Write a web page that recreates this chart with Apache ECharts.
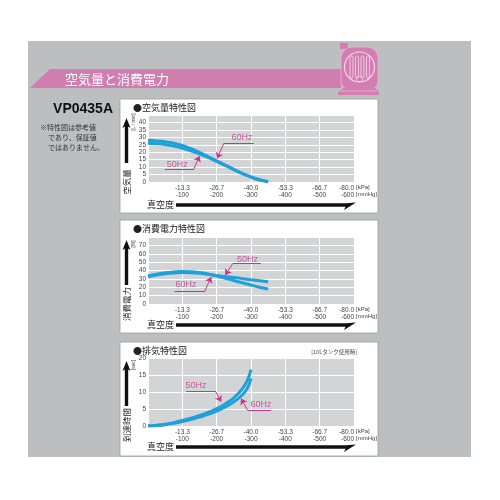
<!DOCTYPE html>
<html><head><meta charset="utf-8">
<script src="https://cdn.jsdelivr.net/npm/echarts@6/dist/echarts.min.js"></script>
<style>html,body{margin:0;padding:0;background:#fff}#c{width:500px;height:500px}</style>
</head><body><div id="c"></div>
<script>
// ---- data (x = vacuum in mmHg, plotted to the right) ----
const kPaLabels = ['-13.3','-26.7','-40.0','-53.3','-66.7','-80.0'];
const mmHgLabels = ['-100','-200','-300','-400','-500','-600'];

const airX  = [0,25,50,75,100,125,150,175,200,225,250,275,300,325,350];
const air60 = [28,27.6,27,26,24.5,22.4,19.9,17.1,14.2,11.3,8.5,5.8,3.4,1.5,0.2];
const air50 = [26,25.7,25.1,24.1,22.7,21,18.9,16.5,13.9,11.1,8.3,5.6,3.3,1.4,0.1];

const powX  = [0,25,50,75,100,125,150,175,200,225,250,275,300,325,350];
const pow60 = [33.5,35.5,37.2,38.3,38.8,38.5,37.5,35.8,33.5,30.8,28,25.3,22.6,20,17.8];
const pow50 = [32.5,34.5,36,37,37.5,37.3,36.6,35.4,34,32.8,31.6,30.3,29,27.8,26.6];

const exhX  = [0,25,50,75,100,125,150,175,200,225,250,275,290,300];
const exh50 = [0,0.2,0.5,1.0,1.6,2.3,3.1,4.0,5.1,6.5,8.3,11.0,13.6,16.6];
const exh60 = [0,0.15,0.4,0.8,1.3,1.9,2.6,3.4,4.4,5.6,7.1,9.2,11.2,14];

// annotation leaders [start, elbow], arrow tip and label anchors (data coords)
const ann1 = [{name:'60Hz', lead:[[308,26],[221,26]], tip:[201,15.8], label:[274,29.8]},
              {name:'50Hz', lead:[[49,8.4],[133,8.4]], tip:[150,17.5], label:[85,12]}];
const ann2 = [{name:'50Hz', lead:[[329,48.4],[247,48.4]], tip:[225,34.5], label:[290,53.5]},
              {name:'60Hz', lead:[[77,15],[165,15]], tip:[184,32.3], label:[111,22.8]}];
const ann3 = [{name:'50Hz', lead:[[111,10.3],[196,10.3]], tip:[213,7.1], label:[140,11.9]},
              {name:'60Hz', lead:[[358,4.65],[290,4.65]], tip:[271,8.1], label:[329,6.3]}];

const yMax = [45, 80, 20];
const yInt = [5, 10, 5];

const FONT = '"Liberation Sans","Noto Sans CJK JP",sans-serif';
const JP = '"Noto Sans CJK JP",sans-serif';
const CURVE = '#1fa0db';
const MAG = '#c8358f';

const panels = [
  {boxY:99, boxH:114, title:'●空気量特性図', top:115, bot:182, arrowY:205, vtext:'空気量', unit:'[L / min]'},
  {boxY:220, boxH:113, title:'●消費電力特性図', top:237, bot:304, arrowY:325, vtext:'消費電力', unit:'[W]'},
  {boxY:342, boxH:114, title:'●排気特性図', top:358, bot:426, arrowY:447, vtext:'到達時間', unit:'[sec]'}
];

const pair = (xs, ys) => xs.map((x,i)=>[x, ys[i]]);

const grids = panels.map(p => ({left:148, right:146, top:p.top, bottom:500-p.bot, show:true,
  backgroundColor:'#d3d4d6', borderWidth:0, containLabel:false}));

const xAxes = panels.map((p,i) => ({type:'value', gridIndex:i, min:0, max:600, interval:100,
  axisLine:{show:false}, axisTick:{show:false},
  splitLine:{show:true, lineStyle:{color:'#ffffff', width:1}},
  axisLabel:{fontSize:6.5, lineHeight:6.5, color:'#444', margin:3, fontFamily:FONT, alignMaxLabel:'right',
    formatter: v => { if (v===0) return ''; const k = v/100-1; return kPaLabels[k]+'\n'+mmHgLabels[k]; }}
}));

const yAxes = panels.map((p,i) => ({type:'value', gridIndex:i, min:0, max:yMax[i], interval:yInt[i],
  axisLine:{show:false}, axisTick:{show:false},
  splitLine:{show:true, lineStyle:{color:'#ffffff', width:1}},
  axisLabel:{fontSize:6.5, color:'#444', margin:2, fontFamily:FONT, showMaxLabel: i===2}
}));

const series = [];
function curve(i, xs, ys){
  series.push({type:'line', xAxisIndex:i, yAxisIndex:i, data:pair(xs,ys), smooth:0.5,
    symbol:'none', silent:true, z:3, lineStyle:{color:CURVE, width:3}});
}
curve(0, airX, air60); curve(0, airX, air50);
curve(1, powX, pow60); curve(1, powX, pow50);
curve(2, exhX, exh50); curve(2, exhX, exh60);

[ann1, ann2, ann3].forEach((anns, i) => {
  series.push({type:'lines', coordinateSystem:'cartesian2d', xAxisIndex:i, yAxisIndex:i, silent:true, z:6,
    lineStyle:{color:MAG, width:1, opacity:1}, symbol:'none',
    data: anns.map(a => ({coords:a.lead}))});
  series.push({type:'lines', coordinateSystem:'cartesian2d', xAxisIndex:i, yAxisIndex:i, silent:true, z:6,
    lineStyle:{color:MAG, width:1, opacity:1}, symbol:['none','arrow'], symbolSize:6,
    data: anns.map(a => ({coords:[a.lead[1], a.tip]}))});
  series.push({type:'scatter', xAxisIndex:i, yAxisIndex:i, silent:true, z:7, symbolSize:1,
    itemStyle:{color:'rgba(0,0,0,0)'},
    label:{show:true, position:'inside', formatter:'{b}', color:MAG, fontSize:9, fontFamily:FONT},
    data: anns.map(a => ({name:a.name, value:a.label}))});
});

// ---- decorations ----
const g = [];
g.push({type:'rect', z:-5, shape:{x:28,y:41,width:443,height:416}, style:{fill:'#bdbec0'}});
g.push({type:'polygon', z:-4, shape:{points:[[50,69],[341,69],[341,88],[30,88]]}, style:{fill:'#d07db0'}});
g.push({type:'text', z:-3, x:65, y:79, style:{text:'空気量と消費電力', fill:'#fff', fontSize:13, fontFamily:JP, verticalAlign:'middle'}});
// logo
g.push({type:'rect', z:-3, shape:{x:340,y:43,width:8,height:6}, style:{fill:'#d47db2'}});
g.push({type:'rect', z:-3, shape:{x:341,y:47,width:37,height:41,r:[11,11,6,6]}, style:{fill:'#d47db2', stroke:'#e9b4d3', lineWidth:0.8}});
g.push({type:'circle', z:-2, shape:{cx:359.5,cy:67,r:15}, style:{fill:'none', stroke:'#f6d8ea', lineWidth:1.2}});
[350,355.5,361,366.5].forEach(x => g.push({type:'rect', z:-2, shape:{x:x,y:56,width:3,height:22,r:1.5}, style:{fill:'none', stroke:'#f6d8ea', lineWidth:0.8}}));
g.push({type:'circle', z:-2, shape:{cx:359.5,cy:79,r:3}, style:{fill:'none', stroke:'#f6d8ea', lineWidth:0.8}});
g.push({type:'polygon', z:-3, shape:{points:[[345,87],[374,87],[379,92],[379,95],[338,95],[338,92]]}, style:{fill:'#d47db2'}});
g.push({type:'line', z:-2, shape:{x1:340,y1:91,x2:377,y2:91}, style:{stroke:'#eab8d6', lineWidth:0.8}});
// left texts
g.push({type:'text', z:-3, x:113, y:109, style:{text:'VP0435A', fill:'#111', fontSize:14, fontWeight:'bold', fontFamily:FONT, align:'right', verticalAlign:'middle'}});
g.push({type:'text', z:-3, x:40, y:127, style:{text:'※特性図は参考値', fill:'#333', fontSize:7, fontFamily:JP, verticalAlign:'middle'}});
g.push({type:'text', z:-3, x:48, y:137, style:{text:'であり、保証値', fill:'#333', fontSize:7, fontFamily:JP, verticalAlign:'middle'}});
g.push({type:'text', z:-3, x:48, y:147.5, style:{text:'ではありません。', fill:'#333', fontSize:7, fontFamily:JP, verticalAlign:'middle'}});

panels.forEach((p, i) => {
  g.push({type:'rect', z:-3, shape:{x:120,y:p.boxY,width:258,height:p.boxH}, style:{fill:'#fff', stroke:'#9c9c9c', lineWidth:0.8}});
  g.push({type:'text', z:5, x:133, y:p.boxY+8.5, style:{text:p.title, fill:'#222', fontSize:9, fontFamily:JP, verticalAlign:'middle'}});
  // y unit
  g.push({type:'text', z:5, x:134, y:p.top+7, rotation:Math.PI/2, style:{text:p.unit, fill:'#444', fontSize:4.8, fontFamily:FONT, align:'center', verticalAlign:'middle'}});
  // vertical arrow
  const t = p.top+3, b = t+45;
  g.push({type:'polygon', z:5, shape:{points:[[126.5,t],[130.5,t+10],[128.2,t+8.5],[128.2,b],[124.8,b],[124.8,t+8.5],[122.5,t+10]]}, style:{fill:'#111'}});
  g.push({type:'text', z:5, x:127, y:b+19, rotation:Math.PI/2, style:{text:p.vtext, fill:'#222', fontSize:8.5, fontFamily:JP, align:'center', verticalAlign:'middle'}});
  // x axis units
  g.push({type:'text', z:5, x:356, y:p.bot+5.5, style:{text:'[kPa]', fill:'#444', fontSize:6, fontFamily:FONT, verticalAlign:'middle'}});
  g.push({type:'text', z:5, x:356, y:p.bot+12, style:{text:'[mmHg]', fill:'#444', fontSize:6, fontFamily:FONT, verticalAlign:'middle'}});
  // 真空度 + horizontal arrow
  const yc = p.arrowY;
  g.push({type:'text', z:5, x:147, y:yc, style:{text:'真空度', fill:'#222', fontSize:9, fontFamily:JP, verticalAlign:'middle'}});
  g.push({type:'polygon', z:5, shape:{points:[[176,yc-1.8],[346,yc-1.8],[356,yc-2.6],[344,yc+5],[345.5,yc+1.8],[176,yc+1.8]]}, style:{fill:'#111'}});
});
g.push({type:'text', z:5, x:357, y:352, style:{text:'[10Lタンク使用時]', fill:'#444', fontSize:5.5, fontFamily:JP, align:'right', verticalAlign:'middle'}});

const chart = echarts.init(document.getElementById('c'), null, {renderer:'canvas'});
chart.setOption({
  animation:false,
  backgroundColor:'#ffffff',
  textStyle:{fontFamily:FONT},
  grid:grids, xAxis:xAxes, yAxis:yAxes, series:series,
  graphic:{elements:g}
});
</script></body></html>
